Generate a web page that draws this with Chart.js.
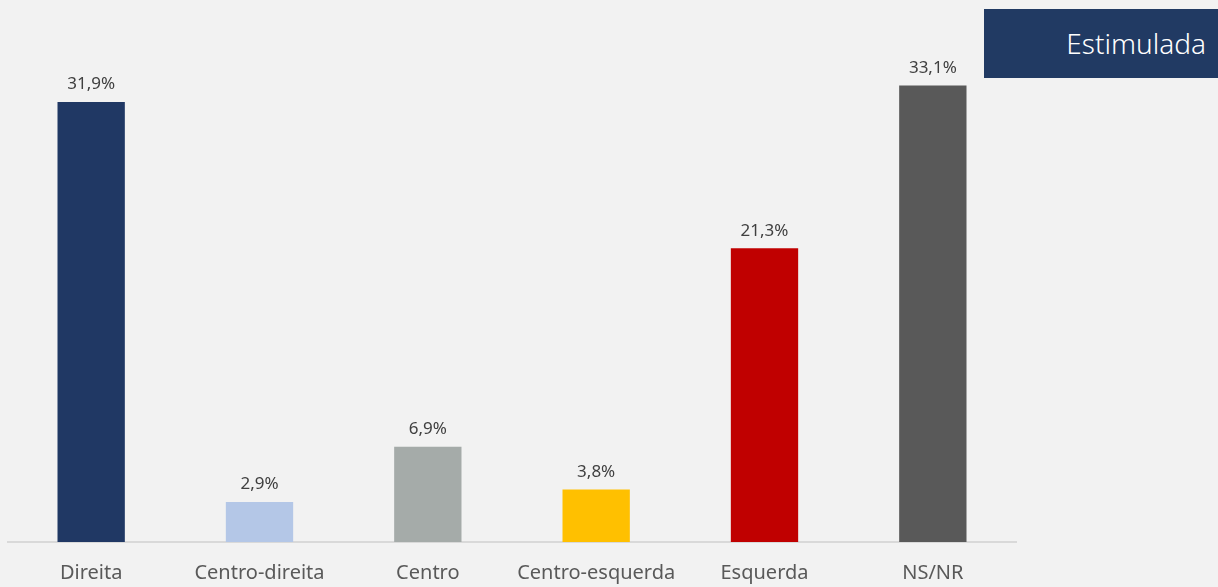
<!DOCTYPE html>
<html>
<head>
<meta charset="utf-8">
<script src="https://cdn.jsdelivr.net/npm/chart.js@4.4.0/dist/chart.umd.min.js"></script>
<style>
  html, body { margin: 0; padding: 0; background: #f2f2f2; width: 1218px; height: 587px; overflow: hidden; }
  #wrap { position: absolute; left: 7px; top: 0; width: 1010px; height: 596px; }
  #tag {
    position: absolute; left: 984px; top: 9px; width: 234px; height: 69px;
    background: #213a63; color: #ffffff; font-family: "Noto Sans", sans-serif;
    font-size: 28px; font-weight: 300; line-height: 69px; text-align: right;
    box-sizing: border-box; padding-right: 12px;
  }
</style>
</head>
<body>
<div id="wrap"><canvas id="myChart"></canvas></div>
<div id="tag">Estimulada</div>
<script>
// categories and values (percent)
let categories = ["Direita", "Centro-direita", "Centro", "Centro-esquerda", "Esquerda", "NS/NR"];
let values = [31.9, 2.9, 6.9, 3.8, 21.3, 33.1];
let barColors = ["#203864", "#b4c7e7", "#a5aba9", "#ffc000", "#c00000", "#595959"];

// writes value labels on top of each bar
const valueLabels = {
  id: 'valueLabels',
  afterDatasetsDraw(chart) {
    let ctx = chart.ctx;
    let meta = chart.getDatasetMeta(0);
    ctx.save();
    ctx.font = '17px "Noto Sans", sans-serif';
    ctx.fillStyle = '#404040';
    ctx.textAlign = 'center';
    ctx.textBaseline = 'bottom';
    meta.data.forEach(function (bar, i) {
      ctx.fillText(values[i].toFixed(1).replace('.', ',') + '%', bar.x, bar.y - 9);
    });
    ctx.restore();
  }
};

let ctx = document.getElementById('myChart').getContext('2d');
let myChart = new Chart(ctx, {
  type: 'bar',
  data: {
    labels: categories,
    datasets: [{
      data: values,
      backgroundColor: barColors,
      barPercentage: 0.4,
      categoryPercentage: 1
    }]
  },
  options: {
    responsive: true,
    maintainAspectRatio: false,
    animation: false,
    layout: { padding: 0 },
    plugins: { legend: { display: false }, tooltip: { enabled: false } },
    scales: {
      y: { display: false, min: 0, max: 39.3 },
      x: {
        grid: { display: false },
        border: { display: true, color: '#d9d9d9', width: 2 },
        ticks: {
          color: '#595959',
          padding: 11,
          font: { family: '"Noto Sans", sans-serif', size: 20 }
        }
      }
    }
  },
  plugins: [valueLabels]
});
</script>
</body>
</html>
